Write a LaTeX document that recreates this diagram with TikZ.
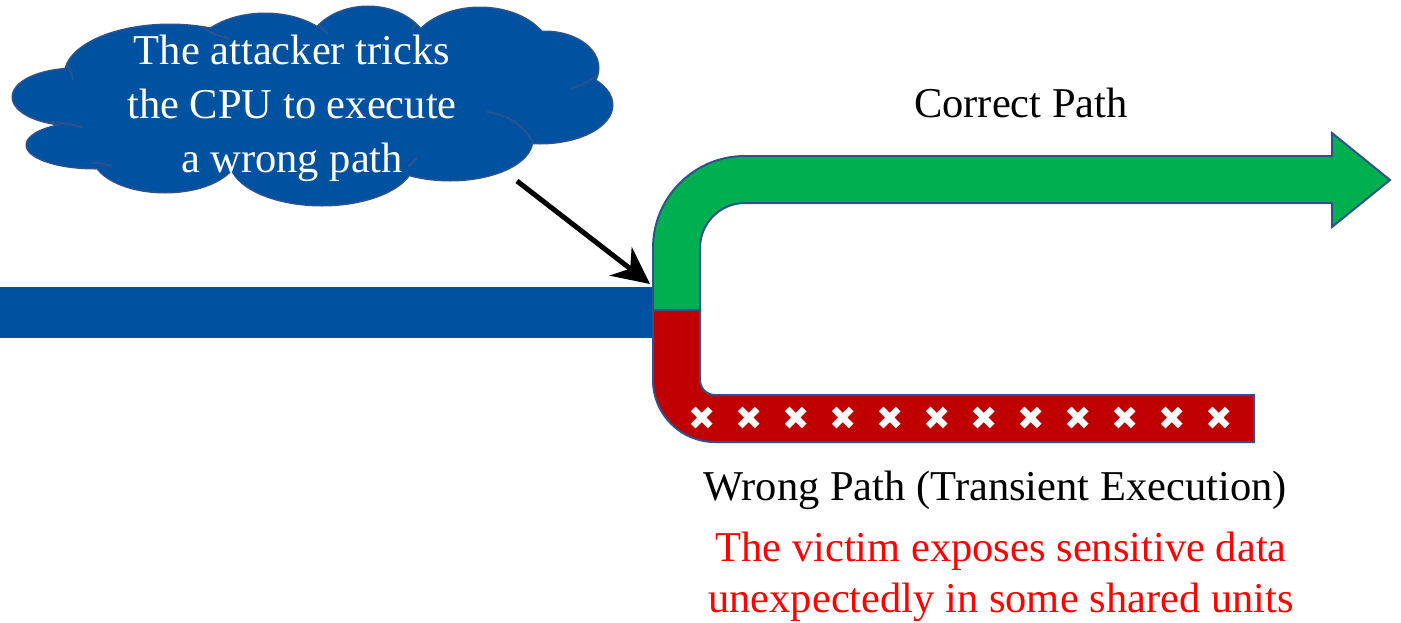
\documentclass[tikz,border=0pt]{standalone}
\usepackage{fontspec}
\setmainfont{Liberation Serif}
\usetikzlibrary{arrows.meta}
\definecolor{pblue}{RGB}{0,81,160}
\definecolor{pgreen}{RGB}{0,176,80}
\definecolor{pred}{RGB}{192,0,0}
\definecolor{pline}{RGB}{47,82,143}
\definecolor{tred}{RGB}{255,0,0}
\tikzset{
  pathshape/.style={draw=pline, line width=2pt, line join=miter},
  txt/.style={font=\fontsize{42.5}{54}\selectfont, align=center, inner sep=0pt},
  xmark/.style={draw=white, line width=6.5pt, line cap=butt},
  pointer/.style={draw=black, line width=5pt, -{Stealth[length=37pt,width=36pt,inset=12pt]}},
  lobeline/.style={draw=pline, line width=3pt},
  lobefill/.style={fill=pblue},
  crease/.style={draw=pline, line width=1.8pt, line cap=round}
}
\def\cloudlobes{(75,97) ellipse[x radius=62, y radius=28]
  (95,145) ellipse[x radius=68, y radius=23]
  (170,75) ellipse[x radius=105, y radius=50]
  (265,62) ellipse[x radius=75, y radius=48]
  (368,55) ellipse[x radius=62, y radius=48]
  (480,58) ellipse[x radius=72, y radius=50]
  (545,68) ellipse[x radius=53, y radius=36]
  (540,105) ellipse[x radius=72, y radius=38]
  (450,140) ellipse[x radius=82, y radius=40]
  (322,160) ellipse[x radius=92, y radius=45]
  (165,155) ellipse[x radius=72, y radius=37]
  (312,105) ellipse[x radius=220, y radius=70]}
\begin{document}
\begin{tikzpicture}[x=1pt,y=-1pt]
\useasboundingbox (0,0) rectangle (1401,622);
% main (blue) path
\fill[pblue] (0,287) rectangle (653,338);
% correct path (green)
\draw[pathshape, fill=pgreen] (653,310) -- (653,248) arc[start angle=180, end angle=270, radius=92]
  -- (1332,156) -- (1332,133) -- (1390,180) -- (1332,227) -- (1332,203) -- (745,203)
  arc[start angle=270, end angle=180, radius=45] -- (700,310) -- cycle;
% wrong path (red)
\draw[pathshape, fill=pred] (653,310) -- (653,380) arc[start angle=180, end angle=90, radius=62]
  -- (1254,442) -- (1254,395) -- (715,395) arc[start angle=90, end angle=180, radius=15]
  -- (700,310) -- cycle;
% crosses
\begin{scope}
\clip (660,397) rectangle (1253,441);
\foreach \i in {0,...,12}{
  \pgfmathsetmacro{\cx}{701.7+47*\i}
  \draw[xmark] (\cx-8.5,409) -- (\cx+8.5,426) (\cx-8.5,426) -- (\cx+8.5,409);
}
\end{scope}
% cloud
\path[lobeline] \cloudlobes;
\path[lobefill] \cloudlobes;
\begin{scope}
\clip \cloudlobes;
\draw[crease] (64,60) to[bend left=12] (73,80);
\draw[crease] (28,122) to[bend left=8] (82,127);
\draw[crease] (93,163) to[bend left=8] (112,166);
\draw[crease] (198,25) to[bend right=10] (228,38);
\draw[crease] (232,176) to[bend right=10] (255,194);
\draw[crease] (318,24) to (328,34);
\draw[crease] (408,167) to (417,158);
\draw[crease] (420,20) to (412,29);
\draw[crease] (572,88) to[bend right=10] (596,76);
\draw[crease] (487,112) to[bend left=25] (533,142);
\end{scope}
\node[txt, text=white] (cloudtext) at (292,108) {The attacker tricks\\the CPU to execute\\a wrong path};
% arrow
\coordinate (astart) at (517,181);
\coordinate (junction) at (650,284);
\draw[pointer] (astart) -- (junction);
% labels
\node[txt, anchor=base] (correct) at (1021,117) {Correct Path};
\node[txt, anchor=base] (wrong) at (995,500) {Wrong Path (Transient Execution)};
\node[txt, text=tred, font=\fontsize{42.5}{51}\selectfont] (victim) at (1001,577) {The victim exposes sensitive data\\unexpectedly in some shared units};
\end{tikzpicture}
\end{document}
